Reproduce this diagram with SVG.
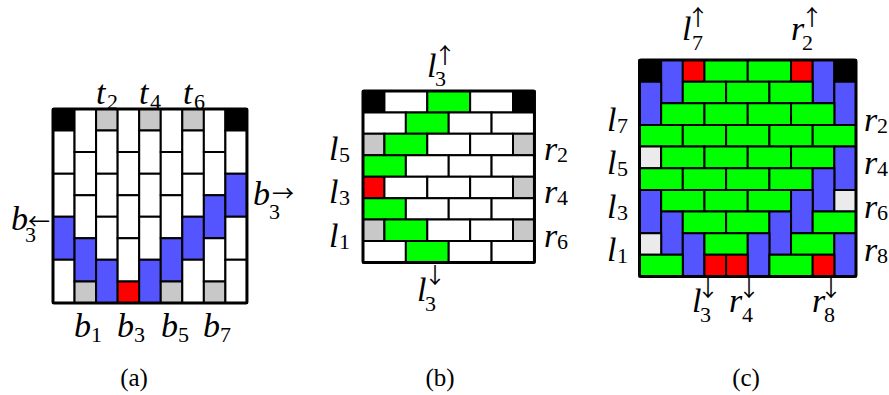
<svg xmlns="http://www.w3.org/2000/svg" width="889" height="395" viewBox="0 0 889 395">
<style>
.t rect{stroke:#000;stroke-width:2;vector-effect:non-scaling-stroke}
.t rect.f{fill:none;stroke-width:3}
.w{fill:#fff}.k{fill:#000}.b{fill:#5555ff}.g{fill:#c8c8c8}.lg{fill:#ebebeb}.gr{fill:#00ff00}.r{fill:#ff0000}
text{fill:#000}
.m{font-family:"Liberation Serif",serif;font-style:italic;font-size:34px}
.s{font-family:"Liberation Serif",serif;font-size:22px}
.a{font-family:"Noto Sans CJK SC",sans-serif;font-size:22px}
.c{font-family:"Liberation Serif",serif;font-size:25px;text-anchor:middle}
</style>
<rect width="889" height="395" fill="#fff"/>

<g id="board-a" class="t" transform="translate(53,109) scale(21.55)">
<rect class="k" x="0" y="0" width="1" height="1"/><rect class="w" x="0" y="1" width="1" height="2"/><rect class="w" x="0" y="3" width="1" height="2"/><rect class="b" x="0" y="5" width="1" height="2"/><rect class="w" x="0" y="7" width="1" height="2"/>
<rect class="w" x="1" y="0" width="1" height="2"/><rect class="w" x="1" y="2" width="1" height="2"/><rect class="w" x="1" y="4" width="1" height="2"/><rect class="b" x="1" y="6" width="1" height="2"/><rect class="g" x="1" y="8" width="1" height="1"/>
<rect class="g" x="2" y="0" width="1" height="1"/><rect class="w" x="2" y="1" width="1" height="2"/><rect class="w" x="2" y="3" width="1" height="2"/><rect class="w" x="2" y="5" width="1" height="2"/><rect class="b" x="2" y="7" width="1" height="2"/>
<rect class="w" x="3" y="0" width="1" height="2"/><rect class="w" x="3" y="2" width="1" height="2"/><rect class="w" x="3" y="4" width="1" height="2"/><rect class="w" x="3" y="6" width="1" height="2"/><rect class="r" x="3" y="8" width="1" height="1"/>
<rect class="g" x="4" y="0" width="1" height="1"/><rect class="w" x="4" y="1" width="1" height="2"/><rect class="w" x="4" y="3" width="1" height="2"/><rect class="w" x="4" y="5" width="1" height="2"/><rect class="b" x="4" y="7" width="1" height="2"/>
<rect class="w" x="5" y="0" width="1" height="2"/><rect class="w" x="5" y="2" width="1" height="2"/><rect class="w" x="5" y="4" width="1" height="2"/><rect class="b" x="5" y="6" width="1" height="2"/><rect class="g" x="5" y="8" width="1" height="1"/>
<rect class="g" x="6" y="0" width="1" height="1"/><rect class="w" x="6" y="1" width="1" height="2"/><rect class="w" x="6" y="3" width="1" height="2"/><rect class="b" x="6" y="5" width="1" height="2"/><rect class="w" x="6" y="7" width="1" height="2"/>
<rect class="w" x="7" y="0" width="1" height="2"/><rect class="w" x="7" y="2" width="1" height="2"/><rect class="b" x="7" y="4" width="1" height="2"/><rect class="w" x="7" y="6" width="1" height="2"/><rect class="g" x="7" y="8" width="1" height="1"/>
<rect class="k" x="8" y="0" width="1" height="1"/><rect class="w" x="8" y="1" width="1" height="2"/><rect class="b" x="8" y="3" width="1" height="2"/><rect class="w" x="8" y="5" width="1" height="2"/><rect class="w" x="8" y="7" width="1" height="2"/>
<rect class="f" x="0" y="0" width="9" height="9" rx="0.05"/>
</g>

<g id="board-b" class="t" transform="translate(363,91) scale(21.43)">
<rect class="k" x="0" y="0" width="1" height="1"/><rect class="w" x="1" y="0" width="2" height="1"/><rect class="gr" x="3" y="0" width="2" height="1"/><rect class="w" x="5" y="0" width="2" height="1"/><rect class="k" x="7" y="0" width="1" height="1"/>
<rect class="w" x="0" y="1" width="2" height="1"/><rect class="gr" x="2" y="1" width="2" height="1"/><rect class="w" x="4" y="1" width="2" height="1"/><rect class="w" x="6" y="1" width="2" height="1"/>
<rect class="g" x="0" y="2" width="1" height="1"/><rect class="gr" x="1" y="2" width="2" height="1"/><rect class="w" x="3" y="2" width="2" height="1"/><rect class="w" x="5" y="2" width="2" height="1"/><rect class="g" x="7" y="2" width="1" height="1"/>
<rect class="gr" x="0" y="3" width="2" height="1"/><rect class="w" x="2" y="3" width="2" height="1"/><rect class="w" x="4" y="3" width="2" height="1"/><rect class="w" x="6" y="3" width="2" height="1"/>
<rect class="r" x="0" y="4" width="1" height="1"/><rect class="w" x="1" y="4" width="2" height="1"/><rect class="w" x="3" y="4" width="2" height="1"/><rect class="w" x="5" y="4" width="2" height="1"/><rect class="g" x="7" y="4" width="1" height="1"/>
<rect class="gr" x="0" y="5" width="2" height="1"/><rect class="w" x="2" y="5" width="2" height="1"/><rect class="w" x="4" y="5" width="2" height="1"/><rect class="w" x="6" y="5" width="2" height="1"/>
<rect class="g" x="0" y="6" width="1" height="1"/><rect class="gr" x="1" y="6" width="2" height="1"/><rect class="w" x="3" y="6" width="2" height="1"/><rect class="w" x="5" y="6" width="2" height="1"/><rect class="g" x="7" y="6" width="1" height="1"/>
<rect class="w" x="0" y="7" width="2" height="1"/><rect class="gr" x="2" y="7" width="2" height="1"/><rect class="w" x="4" y="7" width="2" height="1"/><rect class="w" x="6" y="7" width="2" height="1"/>
<rect class="f" x="0" y="0" width="8" height="8" rx="0.05"/>
</g>

<g id="board-c" class="t" transform="translate(639.5,60) scale(21.65)">
<rect class="k" x="0" y="0" width="1" height="1"/><rect class="b" x="1" y="0" width="1" height="2"/><rect class="r" x="2" y="0" width="1" height="1"/><rect class="gr" x="3" y="0" width="2" height="1"/><rect class="gr" x="5" y="0" width="2" height="1"/><rect class="r" x="7" y="0" width="1" height="1"/><rect class="b" x="8" y="0" width="1" height="2"/><rect class="k" x="9" y="0" width="1" height="1"/>
<rect class="b" x="0" y="1" width="1" height="2"/><rect class="gr" x="2" y="1" width="2" height="1"/><rect class="gr" x="4" y="1" width="2" height="1"/><rect class="gr" x="6" y="1" width="2" height="1"/><rect class="b" x="9" y="1" width="1" height="2"/>
<rect class="gr" x="1" y="2" width="2" height="1"/><rect class="gr" x="3" y="2" width="2" height="1"/><rect class="gr" x="5" y="2" width="2" height="1"/><rect class="gr" x="7" y="2" width="2" height="1"/>
<rect class="gr" x="0" y="3" width="2" height="1"/><rect class="gr" x="2" y="3" width="2" height="1"/><rect class="gr" x="4" y="3" width="2" height="1"/><rect class="gr" x="6" y="3" width="2" height="1"/><rect class="gr" x="8" y="3" width="2" height="1"/>
<rect class="lg" x="0" y="4" width="1" height="1"/><rect class="gr" x="1" y="4" width="2" height="1"/><rect class="gr" x="3" y="4" width="2" height="1"/><rect class="gr" x="5" y="4" width="2" height="1"/><rect class="gr" x="7" y="4" width="2" height="1"/><rect class="b" x="9" y="4" width="1" height="2"/>
<rect class="gr" x="0" y="5" width="2" height="1"/><rect class="gr" x="2" y="5" width="2" height="1"/><rect class="gr" x="4" y="5" width="2" height="1"/><rect class="gr" x="6" y="5" width="2" height="1"/><rect class="b" x="8" y="5" width="1" height="2"/>
<rect class="b" x="0" y="6" width="1" height="2"/><rect class="gr" x="1" y="6" width="2" height="1"/><rect class="gr" x="3" y="6" width="2" height="1"/><rect class="gr" x="5" y="6" width="2" height="1"/><rect class="b" x="7" y="6" width="1" height="2"/><rect class="lg" x="9" y="6" width="1" height="1"/>
<rect class="b" x="1" y="7" width="1" height="2"/><rect class="gr" x="2" y="7" width="2" height="1"/><rect class="gr" x="4" y="7" width="2" height="1"/><rect class="b" x="6" y="7" width="1" height="2"/><rect class="gr" x="8" y="7" width="2" height="1"/>
<rect class="lg" x="0" y="8" width="1" height="1"/><rect class="b" x="2" y="8" width="1" height="2"/><rect class="gr" x="3" y="8" width="2" height="1"/><rect class="b" x="5" y="8" width="1" height="2"/><rect class="gr" x="7" y="8" width="2" height="1"/><rect class="b" x="9" y="8" width="1" height="2"/>
<rect class="gr" x="0" y="9" width="2" height="1"/><rect class="r" x="3" y="9" width="1" height="1"/><rect class="r" x="4" y="9" width="1" height="1"/><rect class="gr" x="6" y="9" width="2" height="1"/><rect class="r" x="8" y="9" width="1" height="1"/>
<rect class="f" x="0" y="0" width="10" height="10" rx="0.08"/>
</g>

<g id="labels-a">
<text class="m" x="96" y="104">t</text><text class="s" x="107" y="109">2</text>
<text class="m" x="139" y="104">t</text><text class="s" x="150" y="109">4</text>
<text class="m" x="183" y="104">t</text><text class="s" x="194" y="109">6</text>
<text class="m" x="74" y="337">b</text><text class="s" x="91" y="342">1</text>
<text class="m" x="117" y="337">b</text><text class="s" x="134" y="342">3</text>
<text class="m" x="161" y="337">b</text><text class="s" x="178" y="342">5</text>
<text class="m" x="203" y="337">b</text><text class="s" x="220" y="342">7</text>
<text class="m" x="11" y="230">b</text><text class="s" x="25" y="242">3</text><text class="a" x="28" y="229">←</text>
<text class="m" x="253" y="205">b</text><text class="s" x="269" y="219">3</text><text class="a" x="272" y="201">→</text>
</g>

<g id="labels-b">
<text class="m" x="427" y="77">l</text><text class="s" x="435" y="86">3</text><text class="a" x="445" y="63" text-anchor="middle">↑</text>
<text class="m" x="329" y="160">l</text><text class="s" x="339" y="162">5</text>
<text class="m" x="329" y="203">l</text><text class="s" x="339" y="205">3</text>
<text class="m" x="329" y="247">l</text><text class="s" x="339" y="249">1</text>
<text class="m" x="544" y="160">r</text><text class="s" x="557" y="162">2</text>
<text class="m" x="544" y="203">r</text><text class="s" x="557" y="205">4</text>
<text class="m" x="544" y="247">r</text><text class="s" x="557" y="249">6</text>
<text class="m" x="417" y="301">l</text><text class="s" x="425" y="311">3</text><text class="a" x="435" y="283" text-anchor="middle">↓</text>
</g>

<g id="labels-c">
<text class="m" x="682" y="40">l</text><text class="s" x="692" y="50">7</text><text class="a" x="698" y="25" text-anchor="middle">↑</text>
<text class="m" x="791" y="40">r</text><text class="s" x="802" y="50">2</text><text class="a" x="812" y="25" text-anchor="middle">↑</text>
<text class="m" x="607" y="131">l</text><text class="s" x="617" y="133">7</text>
<text class="m" x="607" y="174">l</text><text class="s" x="617" y="176">5</text>
<text class="m" x="607" y="218">l</text><text class="s" x="617" y="220">3</text>
<text class="m" x="607" y="261">l</text><text class="s" x="617" y="263">1</text>
<text class="m" x="864" y="131">r</text><text class="s" x="877" y="133">2</text>
<text class="m" x="864" y="174">r</text><text class="s" x="877" y="176">4</text>
<text class="m" x="864" y="218">r</text><text class="s" x="877" y="220">6</text>
<text class="m" x="864" y="261">r</text><text class="s" x="877" y="263">8</text>
<text class="m" x="692" y="312">l</text><text class="s" x="700" y="322">3</text><text class="a" x="708" y="296" text-anchor="middle">↓</text>
<text class="m" x="729" y="312">r</text><text class="s" x="742" y="322">4</text><text class="a" x="749" y="296" text-anchor="middle">↓</text>
<text class="m" x="812" y="312">r</text><text class="s" x="824" y="322">8</text><text class="a" x="831" y="296" text-anchor="middle">↓</text>
</g>

<g id="captions">
<text class="c" x="134" y="386">(a)</text>
<text class="c" x="440" y="386">(b)</text>
<text class="c" x="746" y="386">(c)</text>
</g>
</svg>
